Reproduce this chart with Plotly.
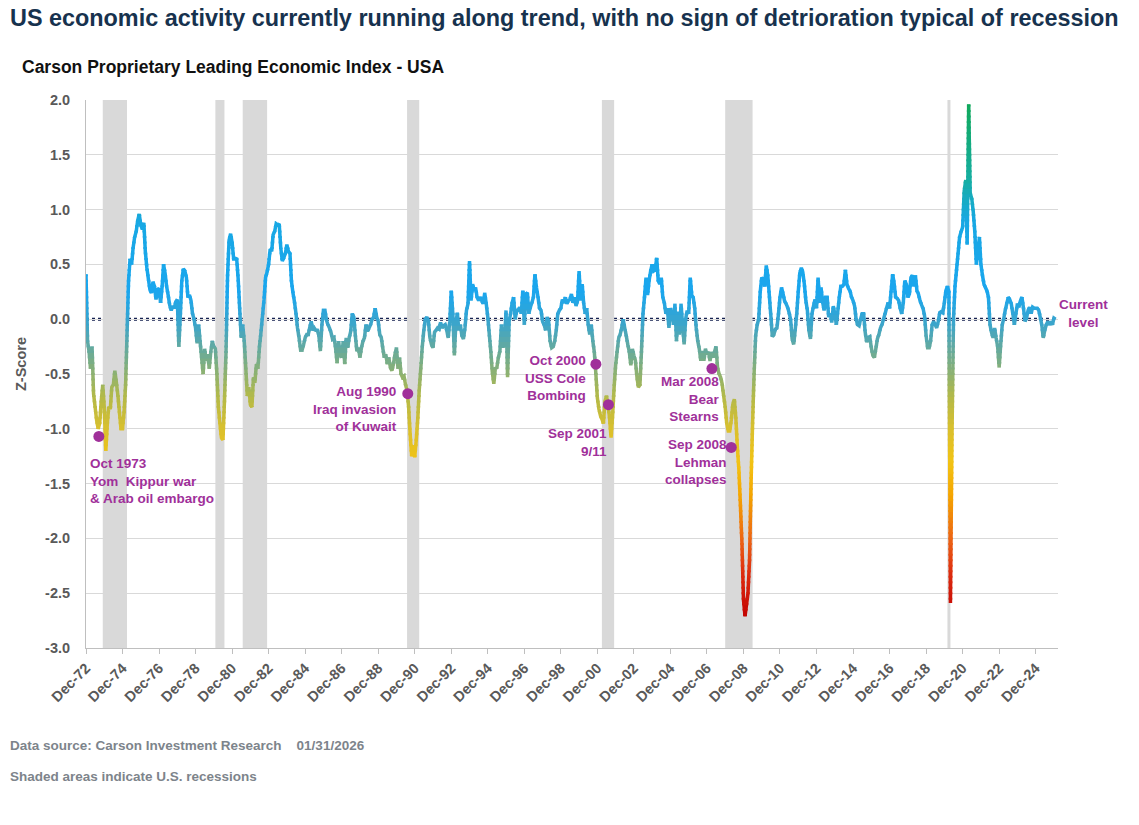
import pandas as pd
import plotly.graph_objects as go
from plotly.colors import sample_colorscale

# Carson leading index z-score, monthly from Dec-1972 (one row = Dec..Nov)
zscore = [
    0.41, -0.2, -0.3, -0.45, -0.25, -0.68, -0.8, -0.92, -1.0, -0.95, -0.75, -0.6,
    -0.8, -1.2, -0.95, -0.8, -0.82, -0.62, -0.6, -0.47, -0.58, -0.7, -0.85, -1.0,
    -1.0, -0.85, -0.6, -0.15, 0.35, 0.55, 0.5, 0.65, 0.75, 0.8, 0.9, 0.96,
    0.86, 0.82, 0.88, 0.62, 0.47, 0.37, 0.27, 0.24, 0.34, 0.3, 0.18, 0.27,
    0.28, 0.15, 0.3, 0.5, 0.42, 0.3, 0.22, 0.13, 0.08, 0.12, 0.1, 0.16,
    0.18, -0.25, 0.05, 0.35, 0.46, 0.44, 0.38, 0.2, 0.22, 0.17, 0.05, 0.0,
    -0.08, -0.22, -0.05, -0.2, -0.35, -0.5, -0.27, -0.38, -0.32, -0.45, -0.3, -0.2,
    -0.25, -0.27, -0.5, -0.8, -0.95, -1.08, -1.1, -0.75, -0.3, 0.4, 0.72, 0.78,
    0.7, 0.55, 0.55, 0.56, 0.37, 0.1, -0.17, -0.05, -0.2, -0.45, -0.7, -0.62,
    -0.78, -0.8, -0.53, -0.58, -0.41, -0.45, -0.25, -0.12, 0.03, 0.18, 0.38, 0.43,
    0.5, 0.64, 0.62, 0.77, 0.8, 0.87, 0.86, 0.87, 0.65, 0.53, 0.56, 0.6,
    0.68, 0.62, 0.6, 0.35, 0.24, 0.16, 0.05, -0.08, -0.17, -0.28, -0.28, -0.23,
    -0.17, -0.14, -0.14, -0.08, -0.02, -0.1, -0.08, -0.1, -0.1, -0.15, -0.29, -0.05,
    0.08, 0.08, -0.01, -0.05, -0.08, -0.12, -0.18, -0.17, -0.26, -0.4, -0.2, -0.32,
    -0.35, -0.2, -0.41, -0.17, -0.26, -0.17, -0.11, 0.05, 0.02, -0.15, -0.29, -0.26,
    -0.35, -0.26, -0.2, -0.17, -0.05, -0.11, -0.08, -0.05, 0.0, 0.02, 0.1, 0.02,
    -0.02, -0.14, -0.17, -0.26, -0.35, -0.32, -0.41, -0.35, -0.44, -0.47, -0.41, -0.32,
    -0.26, -0.45, -0.35, -0.5, -0.53, -0.52, -0.6, -0.65, -0.8, -1.05, -1.25, -1.15,
    -1.26, -1.1, -0.9, -0.65, -0.45, -0.25, -0.1, 0.0, 0.02, -0.02, -0.17, -0.23,
    -0.26, -0.12, -0.1, -0.08, -0.09, -0.03, -0.08, -0.06, -0.05, -0.1, -0.17, -0.02,
    0.26, 0.05, -0.33, -0.05, 0.06, -0.1, -0.05, -0.15, -0.18, -0.08, 0.08, 0.14,
    0.53, 0.17, 0.32, 0.26, 0.29, 0.2, 0.17, 0.2, 0.17, 0.14, 0.24, 0.14,
    0.02, -0.14, -0.3, -0.48, -0.59, -0.45, -0.44, -0.35, -0.29, -0.05, -0.26, -0.2,
    0.08, -0.53, -0.02, 0.05, 0.15, 0.2, 0.0, 0.08, 0.08, 0.11, 0.05, 0.26,
    -0.05, 0.23, 0.24, 0.05, 0.11, 0.15, 0.2, 0.41, 0.29, 0.2, 0.1, 0.08,
    -0.02, -0.05, -0.1, 0.02, -0.02, -0.2, -0.26, -0.25, -0.2, -0.1, 0.05, 0.08,
    0.1, 0.18, 0.15, 0.2, 0.14, 0.17, 0.18, 0.23, 0.15, 0.2, 0.12, 0.17,
    0.44, 0.17, 0.32, 0.15, 0.05, 0.1, -0.05, -0.14, -0.05, -0.2, -0.3, -0.5,
    -0.72, -0.82, -0.88, -0.91, -0.95, -0.75, -0.7, -0.78, -0.9, -1.08, -0.88, -0.62,
    -0.42, -0.29, -0.17, -0.14, -0.08, 0.0, -0.08, -0.15, -0.23, -0.3, -0.42, -0.27,
    -0.33, -0.38, -0.53, -0.62, -0.6, -0.3, 0.05, 0.2, 0.38, 0.22, 0.35, 0.44,
    0.5, 0.44, 0.45, 0.56, 0.35, 0.32, 0.38, 0.2, 0.15, 0.05, 0.1, -0.08,
    0.1, 0.05, -0.05, 0.14, -0.2, 0.07, -0.14, 0.14, -0.05, -0.23, 0.0, 0.08,
    0.05, 0.38, 0.22, 0.2, 0.1, -0.08, -0.2, -0.27, -0.38, -0.29, -0.38, -0.27,
    -0.32, -0.3, -0.38, -0.3, -0.35, -0.3, -0.25, -0.44, -0.5, -0.53, -0.59, -0.7,
    -0.8, -0.95, -1.02, -1.02, -0.92, -0.78, -0.73, -0.9, -1.17, -1.38, -1.7, -2.05,
    -2.56, -2.71, -2.6, -2.5, -2.2, -1.5, -0.95, -0.5, -0.15, -0.05, 0.0, 0.25,
    0.38, 0.36, 0.3, 0.49, 0.4, 0.22, 0.03, -0.16, -0.14, -0.09, -0.08, 0.05,
    0.2, 0.29, 0.23, 0.17, 0.14, 0.11, 0.06, 0.0, -0.18, -0.23, -0.1, 0.05,
    0.25, 0.42, 0.47, 0.43, 0.32, 0.17, 0.08, -0.1, -0.18, 0.05, 0.12, 0.18,
    0.1, 0.38, 0.15, 0.29, 0.16, 0.08, 0.2, 0.2, 0.02, 0.05, -0.03, 0.12,
    0.05, -0.05, 0.08, 0.2, 0.3, 0.3, 0.32, 0.45, 0.32, 0.28, 0.26, 0.2,
    0.17, 0.12, 0.0, -0.05, -0.06, 0.0, 0.05, 0.05, -0.12, -0.21, -0.17, -0.16,
    -0.26, -0.33, -0.35, -0.27, -0.18, -0.14, -0.08, -0.05, 0.0, 0.05, 0.1, 0.15,
    0.1, 0.26, 0.41, 0.33, 0.2, 0.19, 0.17, 0.1, 0.05, 0.15, 0.35, 0.32,
    0.2, 0.23, 0.38, 0.4, 0.3, 0.4, 0.26, 0.23, 0.17, 0.13, 0.1, 0.03,
    -0.15, -0.26, -0.26, -0.2, -0.05, -0.02, -0.05, -0.08, -0.02, 0.06, 0.07, 0.06,
    0.15, 0.26, 0.3, 0.25, -2.59, -1.1, 0.0, 0.3, 0.45, 0.6, 0.75, 0.8,
    0.84, 1.17, 1.27, 0.68, 1.96, 1.15, 1.1, 0.98, 0.8, 0.5, 0.6, 0.75,
    0.5, 0.4, 0.32, 0.29, 0.26, 0.2, -0.05, -0.12, -0.17, -0.08, -0.17, -0.25,
    -0.44, -0.23, -0.05, 0.0, 0.08, 0.14, 0.2, 0.18, 0.14, 0.05, -0.05, 0.05,
    0.14, 0.11, 0.17, 0.2, 0.1, -0.02, 0.01, 0.08, 0.11, 0.05, 0.11, 0.1,
    0.1, 0.1, 0.08, 0.02, -0.05, -0.17, -0.1, -0.05, -0.02, -0.05, -0.02, -0.05,
    0.01, 0.0,
]
dates = pd.date_range("1972-12-01", periods=len(zscore), freq="MS")

# NBER recessions (shaded)
rec_start = ["1973-11-01", "1980-01-01", "1981-07-01", "1990-07-01",
             "2001-03-01", "2007-12-01", "2020-02-01"]
rec_end = ["1975-03-01", "1980-07-01", "1982-11-01", "1991-03-01",
           "2001-11-01", "2009-06-01", "2020-04-01"]

# event markers as they sit on the chart
event_dates = ["1973-08-15", "1990-07-15", "2000-11-01", "2001-07-10",
               "2007-03-10", "2008-04-01", "2026-06-01"]
event_values = [-1.07, -0.68, -0.41, -0.78, -0.45, -1.17, 0.0]
event_labels = [
    "Oct 1973<br>Yom\u00a0 Kippur war<br>& Arab oil embargo",
    "Aug 1990<br>Iraq invasion<br>of Kuwait",
    "Oct 2000<br>USS Cole<br>Bombing",
    "Sep 2001<br>9/11",
    "Mar 2008<br>Bear<br>Stearns",
    "Sep 2008<br>Lehman<br>collapses",
    "Current<br>level",
]

y_ticks = [2.0, 1.5, 1.0, 0.5, 0.0, -0.5, -1.0, -1.5, -2.0, -2.5, -3.0]

# gradient of the line by z-score level
grad_stops = [
    (-2.75, (192, 0, 0)), (-2.3, (222, 45, 15)), (-2.0, (236, 100, 20)),
    (-1.6, (245, 165, 0)), (-1.3, (242, 195, 20)), (-1.0, (218, 192, 45)),
    (-0.7, (180, 186, 72)), (-0.45, (135, 176, 120)), (-0.2, (90, 168, 170)),
    (0.0, (55, 165, 208)), (0.25, (26, 166, 238)), (0.9, (24, 168, 228)),
    (1.3, (22, 174, 160)), (2.0, (16, 168, 88)),
]
lo, hi = grad_stops[0][0], grad_stops[-1][0]
cscale = [[(v - lo) / (hi - lo), "rgb(%d,%d,%d)" % c] for v, c in grad_stops]

YMIN, YMAX = -3.0, 2.0
BAND = 0.05
nband = int(round((YMAX - YMIN) / BAND))

FONT = "Liberation Sans, Arial, sans-serif"
PURPLE = "#A0309A"
GRAY = "#595959"

# pixel frame of the plot area
W, H = 1139, 825
PL, PR, PT, PB = 86, 1058, 100, 648

fig = go.Figure()
# empty trace so the main subplot exists (grid, shading)
fig.add_trace(go.Scatter(x=[], y=[], xaxis="x", yaxis="y", showlegend=False))

# the line is drawn once per horizontal band, each band clipped to its own
# slice of the plot, so the colour follows the level like the original.
# bands overlap by a pixel so no seams show.
ov = 1.0 / (PB - PT)          # one pixel in paper units
ovd = ov * (YMAX - YMIN)      # same in data units
layout_axes = {}
for k in range(nband):
    v0 = YMIN + k * BAND
    v1 = v0 + BAND
    t = min(max((v0 + BAND / 2 - lo) / (hi - lo), 0), 1)
    col = sample_colorscale(cscale, [t])[0]
    d0 = (v0 - YMIN) / (YMAX - YMIN)
    d1 = (v1 - YMIN) / (YMAX - YMIN)
    e0 = ov if k > 0 else 0
    e1 = ov if k < nband - 1 else 0
    name = "y%d" % (k + 2)
    layout_axes["yaxis%d" % (k + 2)] = dict(
        domain=[d0 - e0, d1 + e1],
        range=[v0 - ovd * (e0 > 0), v1 + ovd * (e1 > 0)],
        visible=False, anchor="x", fixedrange=True)
    fig.add_trace(go.Scatter(
        x=dates, y=zscore, mode="lines", xaxis="x", yaxis=name,
        line=dict(color=col, width=3.5, simplify=False),
        hoverinfo="skip", showlegend=False))

top = "y%d" % (nband + 2)
layout_axes["yaxis%d" % (nband + 2)] = dict(
    domain=[0, 1], range=[YMIN, YMAX], visible=False, anchor="x")

fig.add_trace(go.Scatter(
    x=event_dates, y=event_values, mode="markers", xaxis="x", yaxis=top,
    marker=dict(color=PURPLE, size=11), cliponaxis=False, showlegend=False))

fig.update_layout(**layout_axes)

# recession shading
for s, e in zip(rec_start, rec_end):
    fig.add_shape(type="rect", xref="x", yref="y", x0=s, x1=e, y0=YMIN, y1=YMAX,
                  fillcolor="#D9D9D9", line_width=0, layer="below")

# zero line
fig.add_shape(type="line", xref="paper", yref=top, x0=0, x1=1, y0=0, y1=0,
              line=dict(color="#142050", width=3, dash="dot"), layer="below")


def px(x):
    return (x - PL) / (PR - PL)


def py(y):
    return (PB - y) / (PB - PT)


label_pos = [
    (88, 454, "left", "top"),
    (399, 409, "right", "middle"),
    (588, 378, "right", "middle"),
    (609, 442, "right", "middle"),
    (722, 399, "right", "middle"),
    (729, 462, "right", "middle"),
    (1083, 313, "center", "middle"),
]
for txt, (x, y, xa, ya) in zip(event_labels, label_pos):
    fig.add_annotation(x=px(x), y=py(y), xref="paper", yref="paper",
                       text="<b>%s</b>" % txt, showarrow=False, xanchor=xa,
                       yanchor=ya, align=xa,
                       font=dict(family=FONT, size=13.5, color=PURPLE))

fig.add_annotation(x=px(8), y=py(18), xref="paper", yref="paper",
                   text="<b>US economic activity currently running along trend, with no sign of detrioration typical of recession</b>",
                   showarrow=False, xanchor="left", yanchor="middle",
                   font=dict(family=FONT, size=23.4, color="#17324E"))
fig.add_annotation(x=px(20), y=py(67), xref="paper", yref="paper",
                   text="<b>Carson Proprietary Leading Economic Index - USA</b>",
                   showarrow=False, xanchor="left", yanchor="middle",
                   font=dict(family=FONT, size=17.5, color="#111111"))
fig.add_annotation(x=px(21), y=py(364), xref="paper", yref="paper",
                   text="<b>Z-Score</b>", textangle=-90, showarrow=False,
                   xanchor="center", yanchor="middle",
                   font=dict(family=FONT, size=14.5, color=GRAY))
fig.add_annotation(x=px(8), y=py(745), xref="paper", yref="paper",
                   text="<b>Data source: Carson Investment Research\u00a0\u00a0\u00a0 01/31/2026</b>",
                   showarrow=False, xanchor="left", yanchor="middle",
                   font=dict(family=FONT, size=13.5, color="#7D848B"))
fig.add_annotation(x=px(8), y=py(776), xref="paper", yref="paper",
                   text="<b>Shaded areas indicate U.S. recessions</b>",
                   showarrow=False, xanchor="left", yanchor="middle",
                   font=dict(family=FONT, size=13.5, color="#7D848B"))

fig.update_layout(
    width=W, height=H,
    margin=dict(l=PL, r=W - PR, t=PT, b=H - PB),
    paper_bgcolor="white", plot_bgcolor="rgba(0,0,0,0)",
    showlegend=False,
    font=dict(family=FONT, color=GRAY),
    xaxis=dict(type="date", range=["1972-12-01", "2026-02-20"], anchor="y",
               tick0="1972-12-01", dtick="M24", tickformat="%b-%y",
               tickangle=-45, ticks="outside", ticklen=5, tickcolor="#BFBFBF",
               showline=True, linecolor="#BFBFBF", showgrid=False,
               tickfont=dict(family=FONT, size=14.5, color=GRAY, weight="bold")),
    yaxis=dict(range=[YMIN, YMAX], tickvals=y_ticks,
               ticktext=["%.1f" % v for v in y_ticks], showgrid=True,
               gridcolor="#D9D9D9", showline=True, linecolor="#BFBFBF",
               zeroline=False, ticks="", ticklabelstandoff=12,
               tickfont=dict(family=FONT, size=14.5, color=GRAY, weight="bold")),
)

fig.write_html("out.html", config={"displayModeBar": False},
               post_script="document.body.style.margin='0';"
                           "document.body.style.overflow='hidden';")
